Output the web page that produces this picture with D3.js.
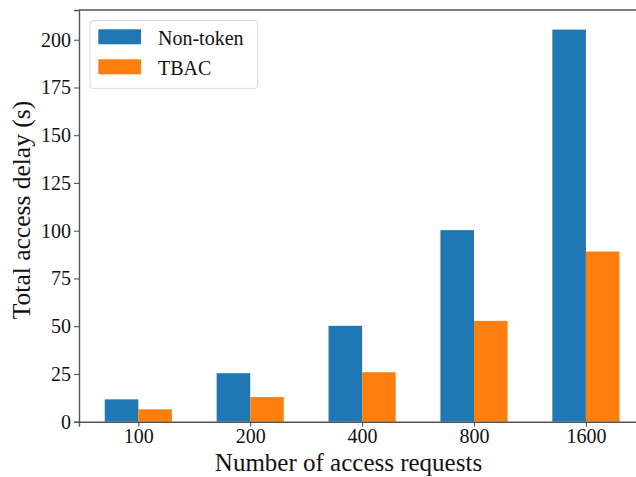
<!DOCTYPE html>
<html>
<head>
<meta charset="utf-8">
<script src="https://cdn.jsdelivr.net/npm/d3@7"></script>
<style>
  html, body { margin: 0; padding: 0; background: #fff; }
  svg { display: block; }
  text { font-family: "Liberation Serif", "Times New Roman", serif; fill: #111; }
</style>
</head>
<body>
<svg id="chart" width="636" height="477"></svg>
<script>
// Number of access requests per test run
const categories = ["100", "200", "400", "800", "1600"];
// Total access delay in seconds for each scheme
const nonTokenDelay = [11.7, 25.4, 50.2, 100.3, 205.3];
const tbacDelay = [6.5, 12.9, 25.9, 52.8, 89.1];
const seriesNames = ["Non-token", "TBAC"];
const seriesColors = ["#1f77b4", "#ff7f0e"];
const yTicks = [0, 25, 50, 75, 100, 125, 150, 175, 200];

const series = [nonTokenDelay, tbacDelay];

const W = 636, H = 477;
const plotLeft = 79, plotTop = 10, plotBottom = 421.7;
const barW = 0.3;

const svg = d3.select("#chart");

// Positional x scale in group units; the right spine falls past the canvas edge
const x = d3.scaleLinear().domain([-0.53, 4.53]).range([plotLeft, plotLeft + 5.06 * 111.9]);
const yMax = d3.max(series.flat()) * 1.05;
const y = d3.scaleLinear().domain([0, yMax]).range([plotBottom, plotTop]);

// Bars
series.forEach((vals, si) => {
  svg.append("g").selectAll("rect")
    .data(vals)
    .join("rect")
    .attr("x", (d, i) => x(i + (si - 1) * barW))
    .attr("y", d => y(d))
    .attr("width", x(barW) - x(0))
    .attr("height", d => y(0) - y(d))
    .attr("fill", seriesColors[si]);
});

// Frame (top spine; right spine lies beyond the canvas)
const frame = svg.append("g").attr("fill", "none").attr("stroke", "#555").attr("stroke-width", 1.4);
frame.append("line").attr("x1", plotLeft).attr("x2", W).attr("y1", plotTop).attr("y2", plotTop);

// Y axis
const yAxis = svg.append("g")
  .attr("transform", `translate(${plotLeft},0)`)
  .call(d3.axisLeft(y).tickValues(yTicks).tickSize(5).tickPadding(3).tickFormat(d3.format("d")));
yAxis.select(".domain").attr("stroke", "#555").attr("stroke-width", 1.4);
yAxis.selectAll(".tick line").attr("stroke", "#555").attr("stroke-width", 1.1);
yAxis.selectAll(".tick text").style("font-size", "20px").style("font-family", "Liberation Serif").attr("fill", "#111");

// X axis
const xAxis = svg.append("g")
  .attr("transform", `translate(0,${plotBottom})`)
  .call(d3.axisBottom(x).tickValues(d3.range(categories.length)).tickSize(5).tickPadding(2)
    .tickFormat(i => categories[i]));
xAxis.select(".domain").attr("stroke", "#555").attr("stroke-width", 1.4);
xAxis.selectAll(".tick line").attr("stroke", "#555").attr("stroke-width", 1.1);
xAxis.selectAll(".tick text").style("font-size", "20px").style("font-family", "Liberation Serif").attr("fill", "#111");

// Axis titles
svg.append("text")
  .attr("x", 348.5)
  .attr("y", 470.5)
  .attr("text-anchor", "middle")
  .style("font-size", "25px")
  .text("Number of access requests");

svg.append("text")
  .attr("transform", `translate(30,210) rotate(-90)`)
  .attr("text-anchor", "middle")
  .style("font-size", "25.5px")
  .text("Total access delay (s)");

// Legend
const legend = svg.append("g");
legend.append("rect")
  .attr("x", 90).attr("y", 20.7).attr("width", 167.7).attr("height", 67.6)
  .attr("rx", 3).attr("fill", "#fff").attr("fill-opacity", 0.8)
  .attr("stroke", "#d8d8d8").attr("stroke-width", 1);
seriesNames.forEach((name, i) => {
  const g = legend.append("g").attr("transform", `translate(98.3,${29.3 + i * 30})`);
  g.append("rect").attr("width", 42.7).attr("height", 15).attr("fill", seriesColors[i]);
  g.append("text").attr("x", 59.7).attr("y", 15.5).style("font-size", "20px").text(name);
});
</script>
</body>
</html>
